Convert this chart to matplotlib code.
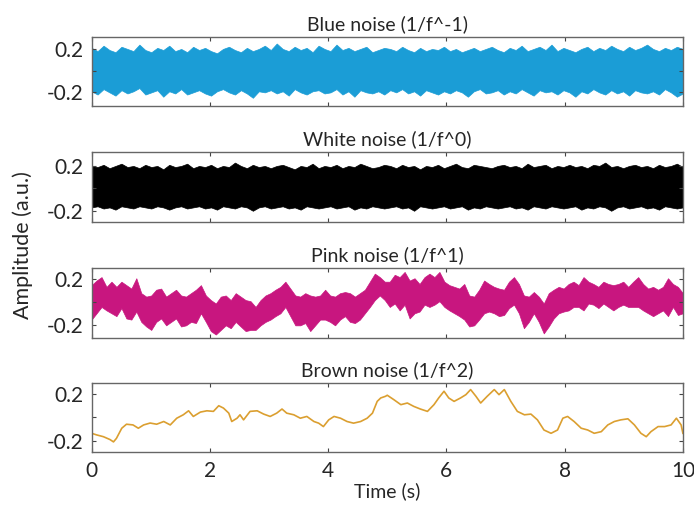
import numpy as np
import matplotlib.pyplot as plt

# Envelopes of the dense signals (upper / lower edge), 10 s record
blue_upper = [0.21, 0.18, 0.23, 0.19, 0.17, 0.22, 0.20, 0.18, 0.24, 0.19,
              0.17, 0.21, 0.19, 0.23, 0.18, 0.20, 0.17, 0.22, 0.19, 0.21,
              0.18, 0.16, 0.20, 0.22, 0.19, 0.17, 0.21, 0.18, 0.20, 0.23,
              0.19, 0.25, 0.20, 0.18, 0.22, 0.19, 0.21, 0.17, 0.23, 0.20,
              0.18, 0.24, 0.19, 0.21, 0.18, 0.20, 0.22, 0.17, 0.19, 0.21,
              0.20, 0.18, 0.22, 0.19, 0.17, 0.21, 0.18, 0.20, 0.19, 0.22,
              0.18, 0.20, 0.17, 0.19, 0.21, 0.18, 0.20, 0.22, 0.19, 0.17,
              0.21, 0.19, 0.23, 0.18, 0.20, 0.22, 0.19, 0.24, 0.18, 0.21,
              0.19, 0.17, 0.20, 0.22, 0.18, 0.21, 0.19, 0.23, 0.20, 0.18,
              0.22, 0.19, 0.21, 0.24, 0.20, 0.18, 0.21, 0.19, 0.22, 0.20]
blue_lower = [-0.19, -0.22, -0.17, -0.20, -0.23, -0.18, -0.21, -0.19, -0.16, -0.22,
              -0.20, -0.18, -0.24, -0.19, -0.21, -0.17, -0.22, -0.20, -0.18, -0.21,
              -0.23, -0.19, -0.17, -0.20, -0.22, -0.18, -0.21, -0.25, -0.19, -0.20,
              -0.18, -0.21, -0.19, -0.23, -0.17, -0.20, -0.22, -0.19, -0.18, -0.21,
              -0.20, -0.17, -0.22, -0.19, -0.24, -0.18, -0.20, -0.21, -0.19, -0.22,
              -0.18, -0.20, -0.17, -0.21, -0.19, -0.23, -0.18, -0.20, -0.22, -0.19,
              -0.21, -0.18, -0.20, -0.24, -0.19, -0.17, -0.21, -0.20, -0.18, -0.22,
              -0.19, -0.21, -0.17, -0.20, -0.23, -0.18, -0.20, -0.19, -0.22, -0.18,
              -0.20, -0.24, -0.19, -0.21, -0.17, -0.20, -0.22, -0.18, -0.21, -0.19,
              -0.23, -0.18, -0.20, -0.21, -0.19, -0.22, -0.17, -0.20, -0.24, -0.21]

white_upper = [0.20, 0.19, 0.21, 0.18, 0.20, 0.22, 0.19, 0.20, 0.18, 0.21,
               0.19, 0.20, 0.17, 0.21, 0.19, 0.20, 0.22, 0.18, 0.20, 0.19,
               0.21, 0.18, 0.20, 0.19, 0.23, 0.20, 0.18, 0.21, 0.19, 0.20,
               0.18, 0.20, 0.21, 0.19, 0.17, 0.20, 0.19, 0.22, 0.18, 0.20,
               0.19, 0.21, 0.18, 0.20, 0.19, 0.22, 0.20, 0.18, 0.19, 0.21,
               0.20, 0.18, 0.21, 0.19, 0.20, 0.17, 0.20, 0.19, 0.21, 0.18,
               0.20, 0.22, 0.19, 0.18, 0.21, 0.20, 0.19, 0.18, 0.20, 0.21,
               0.19, 0.20, 0.18, 0.22, 0.19, 0.20, 0.21, 0.18, 0.20, 0.19,
               0.21, 0.19, 0.20, 0.18, 0.21, 0.20, 0.23, 0.19, 0.20, 0.18,
               0.20, 0.21, 0.19, 0.20, 0.18, 0.21, 0.19, 0.20, 0.22, 0.19]
white_lower = [-0.17, -0.16, -0.18, -0.17, -0.19, -0.16, -0.17, -0.18, -0.16, -0.17,
               -0.18, -0.16, -0.17, -0.19, -0.17, -0.16, -0.18, -0.17, -0.16, -0.18,
               -0.17, -0.19, -0.16, -0.17, -0.18, -0.16, -0.17, -0.20, -0.17, -0.16,
               -0.18, -0.17, -0.16, -0.18, -0.17, -0.19, -0.16, -0.17, -0.18, -0.17,
               -0.16, -0.18, -0.17, -0.16, -0.19, -0.17, -0.18, -0.16, -0.17, -0.18,
               -0.17, -0.16, -0.18, -0.17, -0.20, -0.16, -0.17, -0.18, -0.17, -0.16,
               -0.18, -0.17, -0.16, -0.19, -0.17, -0.18, -0.16, -0.17, -0.18, -0.17,
               -0.16, -0.18, -0.17, -0.19, -0.16, -0.17, -0.18, -0.16, -0.17, -0.18,
               -0.17, -0.16, -0.19, -0.17, -0.18, -0.16, -0.17, -0.20, -0.17, -0.16,
               -0.18, -0.17, -0.16, -0.18, -0.17, -0.19, -0.16, -0.17, -0.18, -0.17]

pink_upper = [0.15, 0.19, 0.22, 0.135, 0.18, 0.135, 0.18, 0.15, 0.12, 0.21,
              0.08, 0.05, 0.06, 0.11, 0.12, 0.05, 0.08, 0.11, 0.06, 0.05,
              0.08, 0.11, 0.15, 0.06, 0.02, -0.01, 0.05, 0.06, 0.02, 0.08,
              0.05, 0.02, 0.01, -0.04, 0.02, 0.06, 0.08, 0.11, 0.135, 0.18,
              0.12, 0.06, 0.05, 0.08, 0.06, 0.05, 0.06, 0.11, 0.06, 0.05,
              0.08, 0.09, 0.08, 0.05, 0.08, 0.11, 0.18, 0.25, 0.22, 0.18,
              0.18, 0.24, 0.22, 0.265, 0.19, 0.21, 0.16, 0.22, 0.25, 0.22,
              0.265, 0.18, 0.15, 0.135, 0.12, 0.16, 0.06, 0.05, 0.11, 0.19,
              0.16, 0.135, 0.12, 0.11, 0.18, 0.22, 0.16, 0.06, 0.05, 0.09,
              0.05, -0.01, 0.08, 0.11, 0.135, 0.12, 0.16, 0.18, 0.15, 0.22,
              0.18, 0.16, 0.135, 0.18, 0.16, 0.15, 0.16, 0.18, 0.135, 0.18,
              0.22, 0.16, 0.12, 0.135, 0.11, 0.135, 0.21, 0.16, 0.135, 0.08]
pink_lower = [-0.15, -0.095, -0.04, -0.07, -0.095, -0.12, -0.05, -0.14, -0.15, -0.08,
              -0.17, -0.21, -0.24, -0.17, -0.14, -0.20, -0.17, -0.14, -0.21, -0.20,
              -0.17, -0.18, -0.095, -0.17, -0.25, -0.28, -0.24, -0.20, -0.225, -0.17,
              -0.21, -0.25, -0.24, -0.24, -0.20, -0.17, -0.15, -0.12, -0.095, -0.04,
              -0.12, -0.20, -0.20, -0.18, -0.25, -0.20, -0.15, -0.15, -0.17, -0.20,
              -0.15, -0.12, -0.17, -0.18, -0.15, -0.095, -0.04, 0.02, 0.06, 0.02,
              -0.04, -0.01, -0.07, -0.02, -0.14, -0.095, -0.08, -0.02, -0.04, -0.02,
              0.01, -0.04, -0.07, -0.095, -0.12, -0.15, -0.21, -0.20, -0.15, -0.095,
              -0.08, -0.095, -0.12, -0.11, -0.05, -0.02, -0.095, -0.225, -0.17, -0.095,
              -0.17, -0.27, -0.21, -0.14, -0.095, -0.08, -0.07, -0.04, -0.04, -0.07,
              -0.01, -0.02, -0.05, -0.01, -0.04, -0.07, -0.04, -0.02, -0.04, -0.04,
              -0.04, -0.07, -0.095, -0.12, -0.095, -0.07, -0.12, -0.04, -0.11, -0.095]

# Brown noise is thin enough to trace as a single line
brown_t = [0.0, 0.08, 0.2, 0.31, 0.37, 0.42, 0.51, 0.59, 0.7, 0.79,
           0.88, 0.99, 1.1, 1.22, 1.33, 1.44, 1.55, 1.64, 1.72, 1.84,
           1.95, 2.06, 2.15, 2.23, 2.32, 2.37, 2.46, 2.51, 2.57, 2.68,
           2.8, 2.91, 3.02, 3.13, 3.22, 3.3, 3.42, 3.53, 3.64, 3.76,
           3.84, 3.92, 4.01, 4.1, 4.21, 4.32, 4.43, 4.55, 4.66, 4.75,
           4.83, 4.89, 4.97, 5.0, 5.11, 5.23, 5.34, 5.45, 5.56, 5.68,
           5.79, 5.87, 5.96, 6.04, 6.13, 6.24, 6.33, 6.41, 6.5, 6.58,
           6.69, 6.81, 6.89, 6.98, 7.09, 7.2, 7.32, 7.43, 7.54, 7.65,
           7.77, 7.88, 7.97, 8.05, 8.16, 8.28, 8.39, 8.5, 8.62, 8.73,
           8.84, 8.95, 9.07, 9.18, 9.29, 9.38, 9.46, 9.58, 9.69, 9.8,
           9.89, 9.97, 10.0]
brown_v = [-0.137, -0.15, -0.166, -0.19, -0.21, -0.18, -0.094, -0.06, -0.066, -0.094,
           -0.066, -0.05, -0.06, -0.037, -0.066, -0.009, 0.02, 0.054, 0.006, 0.043,
           0.054, 0.049, 0.097, 0.077, 0.034, -0.037, -0.009, 0.02, -0.023, 0.049,
           0.054, 0.026, 0.006, 0.034, 0.069, 0.034, 0.02, -0.009, 0.006, -0.037,
           -0.051, -0.08, -0.023, 0.006, -0.009, -0.037, -0.051, -0.037, -0.009, 0.034,
           0.134, 0.163, 0.177, 0.186, 0.149, 0.106, 0.12, 0.091, 0.069, 0.049,
           0.106, 0.163, 0.22, 0.163, 0.134, 0.163, 0.191, 0.234, 0.177, 0.12,
           0.177, 0.234, 0.191, 0.234, 0.134, 0.049, 0.02, 0.026, -0.023, -0.109,
           -0.137, -0.109, -0.009, 0.006, -0.037, -0.094, -0.109, -0.137, -0.123, -0.066,
           -0.037, -0.023, -0.014, -0.066, -0.137, -0.166, -0.123, -0.08, -0.08, -0.066,
           -0.009, -0.066, -0.137]

titles = ['Blue noise (1/f^-1)', 'White noise (1/f^0)',
          'Pink noise (1/f^1)', 'Brown noise (1/f^2)']
colors = ['#1B9DD6', '#000000', '#C8167F', '#DB9F30']
ylims = [(-0.33, 0.31), (-0.30, 0.32), (-0.31, 0.295), (-0.30, 0.29)]

plt.rcParams['font.family'] = ['Lato', 'DejaVu Sans']

fig = plt.figure(figsize=(6.94, 5.11), dpi=100)
left, width, height = 0.132, 0.852, 0.136
bottoms = [0.7916, 0.5656, 0.3386, 0.1145]

axes = []
for i in range(4):
    ax = fig.add_axes([left, bottoms[i], width, height])
    axes.append(ax)

bands = [(blue_upper, blue_lower), (white_upper, white_lower), (pink_upper, pink_lower)]
for ax, (up, lo), c in zip(axes[:3], bands, colors[:3]):
    t = np.linspace(0, 10, len(up))
    ax.fill_between(t, lo, up, color=c, lw=0.5, edgecolor=c)

axes[3].plot(brown_t, brown_v, color=colors[3], lw=1.2)

for i, ax in enumerate(axes):
    ax.set_xlim(0, 10)
    ax.set_ylim(*ylims[i])
    ax.set_xticks([0, 2, 4, 6, 8, 10])
    ax.set_yticks([-0.2, 0, 0.2])
    ax.set_yticklabels(['-0.2', '', '0.2'])
    ax.tick_params(direction='in', top=True, right=True, length=3,
                   width=0.8, color='#444444', labelsize=15, pad=6,
                   labelcolor='#262626')
    for s in ax.spines.values():
        s.set_color('#666666')
        s.set_linewidth(1.0)
    ax.set_title(titles[i], fontsize=14, pad=5, color='#262626')
    if i < 3:
        ax.set_xticklabels([])

axes[3].set_xlabel('Time (s)', fontsize=14, labelpad=1, color='#262626')
fig.text(0.032, 0.52, 'Amplitude (a.u.)', rotation=90, va='center', ha='center',
         fontsize=15.5, color='#262626')

fig.savefig('out.png', dpi=100)
